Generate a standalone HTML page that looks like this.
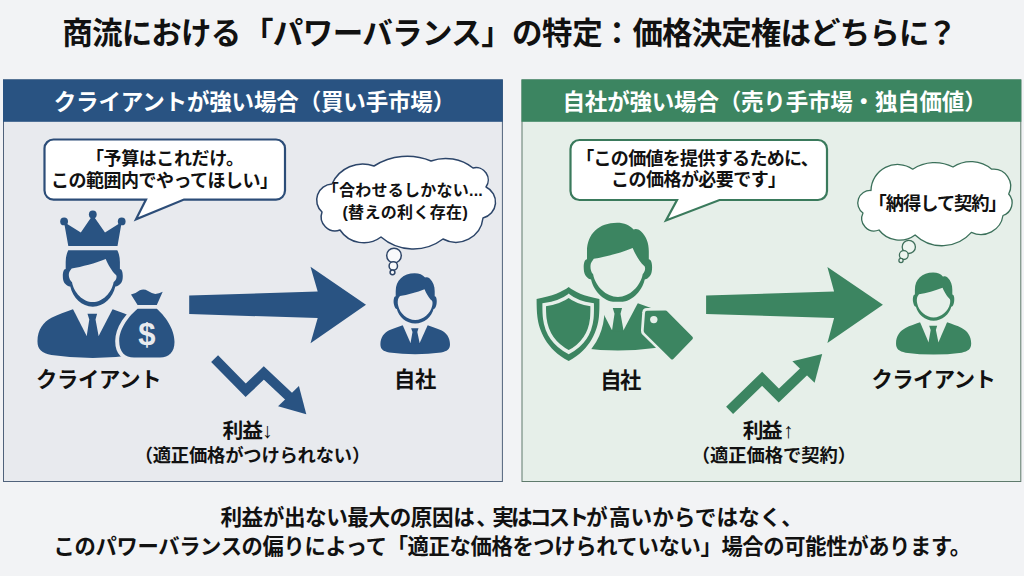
<!DOCTYPE html>
<html lang="ja"><head><meta charset="utf-8"><title>商流におけるパワーバランスの特定</title>
<style>
html,body{margin:0;padding:0;background:#f2f3f5;font-family:"Liberation Sans",sans-serif}
#stage{position:relative;width:1024px;height:576px;overflow:hidden;background:#f2f3f5}
svg{display:block;position:absolute;left:0;top:0}
svg text{font-family:"Liberation Sans","Noto Sans CJK JP",sans-serif;font-weight:bold}
.t{position:absolute;margin:0;padding:0;color:transparent;font-weight:bold;line-height:1;white-space:nowrap;text-align:center;overflow:hidden;font-family:"Liberation Sans","Noto Sans CJK JP",sans-serif;pointer-events:none}
</style>
</head><body>
<div id="stage">
<svg width="1024" height="576" viewBox="0 0 1024 576" role="img" aria-label="商流におけるパワーバランスの特定">
<rect width="1024" height="576" fill="#f2f3f5"/>
<rect x="3.5" y="80" width="498.9" height="401.5" fill="#e8eaee" stroke="#50627b" stroke-width="1"/>
<rect x="3" y="79.4" width="499.8" height="42.4" fill="#295382"/>
<rect x="522" y="80" width="498.8" height="401.5" fill="#e6efe9" stroke="#5f7a6c" stroke-width="1"/>
<rect x="521.5" y="79.4" width="499.8" height="42.4" fill="#3c8561"/>
<path d="M53.5 139.5H276A9 9 0 0 1 285 148.5V190.6A9 9 0 0 1 276 199.6H184L136 219.3L146 199.6H53.5A9 9 0 0 1 44.5 190.6V148.5A9 9 0 0 1 53.5 139.5Z" fill="#fff" stroke="#2c4d78" stroke-width="2.2" stroke-linejoin="miter"/>
<path d="M579.5 140H818A9 9 0 0 1 827 149V191A9 9 0 0 1 818 200H719.5L666 220.5L677 200H579.5A9 9 0 0 1 570.5 191V149A9 9 0 0 1 579.5 140Z" fill="#fff" stroke="#3a7a5c" stroke-width="2.2" stroke-linejoin="miter"/>
<path d="M332 184A33.5 33.5 0 0 1 374 166A61.96 61.96 0 0 1 431 161A43.95 43.95 0 0 1 473 168A12.28 12.28 0 0 1 486 187A16.52 16.52 0 0 1 483 218A27.26 27.26 0 0 1 443 239A49.23 49.23 0 0 1 381 237A28.53 28.53 0 0 1 340 230A14.12 14.12 0 0 1 322 212A16.05 16.05 0 0 1 332 184Z" fill="#fff" stroke="#2c4569" stroke-width="1.5" stroke-linejoin="round"/>
<circle cx="394" cy="255.5" r="7.3" fill="#f8f9fb" stroke="#2f4668" stroke-width="1.5"/>
<circle cx="393.3" cy="266" r="4.2" fill="#f8f9fb" stroke="#2f4668" stroke-width="1.5"/>
<circle cx="392.5" cy="272.3" r="2.4" fill="#f8f9fb" stroke="#2f4668" stroke-width="1.5"/>
<path d="M871 190.5A26.58 26.58 0 0 1 912.7 169.2A39.77 39.77 0 0 1 953 167A32.14 32.14 0 0 1 991.7 169.2A17.06 17.06 0 0 1 1008.7 194A13.31 13.31 0 0 1 1003 215.5A22.34 22.34 0 0 1 971.4 232.4A39.09 39.09 0 0 1 915.1 235A25.89 25.89 0 0 1 879 230A12.52 12.52 0 0 1 863 213A12.42 12.42 0 0 1 871 190.5Z" fill="#fff" stroke="#3b705a" stroke-width="1.3" stroke-linejoin="round"/>
<circle cx="908.8" cy="246.9" r="6.6" fill="#eef5f0" stroke="#3f6f5b" stroke-width="1.3"/>
<circle cx="903.8" cy="255.1" r="4.4" fill="#eef5f0" stroke="#3f6f5b" stroke-width="1.3"/>
<circle cx="901" cy="260.5" r="2.1" fill="#eef5f0" stroke="#3f6f5b" stroke-width="1.3"/>
<path d="M189.2 295.6L317.7 291.5L310.5 266.7L366 304.8L310.5 343.3L317.7 318.1L189.2 314Z" fill="#295382"/>
<path d="M706.1 295.6L834.1 291.5L827.4 267.1L882.9 304.8L827.4 342.9L834.1 318.1L706.1 314Z" fill="#3c8561"/>
<path d="M214.6 358.7L245.7 390.3L263.8 373L290.5 398" fill="none" stroke="#295382" stroke-width="9.7" stroke-linejoin="miter"/>
<path d="M298.9 386L306.3 414.2L278.1 406.2Z" fill="#295382"/>
<path d="M729.6 410.4L762.1 378.8L778.8 395.5L805.5 370" fill="none" stroke="#3c8561" stroke-width="10" stroke-linejoin="miter"/>
<path d="M792.4 361.3L822.2 353.9L814.6 382.7Z" fill="#3c8561"/>
<path d="M414.7 273.3C419.2 273.3 422.7 274.8 425.1 277.6C426.2 276.9 428.2 277.2 429.7 278.6C433.2 281.8 434.7 286.3 434.7 291.3L434.7 296.3C436.8 296.3 437.1 301.3 436.5 304.3C435.9 307.5 434.8 309 433.6 309C431.7 316.8 424.2 323.5 415.2 323.5C406.2 323.5 398.7 316.8 396.8 309C395.6 309 394.5 307.5 393.9 304.3C393.3 301.3 393.6 296.3 395.7 296.3L395.7 291.3C395.7 280.3 403.2 273.3 414.7 273.3Z" fill="#295382"/><path d="M400 296C407.2 294.8 417.2 292.3 424.5 289.2C426.2 293.3 429.2 298.3 431.5 300.3C432.7 300.8 432.8 303.8 432.2 305.8C430.7 313.3 423.2 320.1 415.2 320.1C407.2 320.1 399.7 313.3 398.2 305.8C397.4 303.3 397.6 299.3 398.7 297.8Z" fill="#e8eaee"/><path d="M402.7 325.2C398.2 326.8 393.2 328.3 389.2 330.3C384.2 332.8 380.4 337.3 380.4 344.3C380.4 349.3 383.2 351.3 389.2 352.5Q402.2 354.3 415.2 354.3Q428.2 354.3 441.2 352.5C447.2 351.3 450 349.3 450 344.3C450 337.3 446.2 332.8 441.2 330.3C437.2 328.3 432.2 326.8 427.7 325.2Z" fill="#295382"/><path d="M402.3 324.3L410.5 343.1H419.7L428.1 324.3Z" fill="#e8eaee"/><path d="M411.1 328.3H418.5L417.3 332.1L419.8 343.8H410.4L412.5 332.1Z" fill="#295382"/>
<path d="M933.12 272.5C937.44 272.5 940.8 273.94 943.1 276.63C944.16 275.96 946.08 276.24 947.52 277.59C950.88 280.66 952.32 284.98 952.32 289.78L952.32 294.58C954.34 294.58 954.62 299.38 954.05 302.26C953.47 305.33 952.42 306.77 951.26 306.77C949.44 314.26 942.24 320.69 933.6 320.69C924.96 320.69 917.76 314.26 915.94 306.77C914.78 306.77 913.73 305.33 913.15 302.26C912.58 299.38 912.86 294.58 914.88 294.58L914.88 289.78C914.88 279.22 922.08 272.5 933.12 272.5Z" fill="#3c8561"/><path d="M919.01 294.29C925.92 293.14 935.52 290.74 942.53 287.76C944.16 291.7 947.04 296.5 949.25 298.42C950.4 298.9 950.5 301.78 949.92 303.7C948.48 310.9 941.28 317.43 933.6 317.43C925.92 317.43 918.72 310.9 917.28 303.7C916.51 301.3 916.7 297.46 917.76 296.02Z" fill="#e6efe9"/><path d="M920.1 322.32C915.24 324.1 909.84 325.76 905.52 327.99C900.12 330.76 896.02 335.75 896.02 343.53C896.02 349.08 899.04 351.3 905.52 352.63Q919.56 354.62 933.6 354.62Q947.64 354.62 961.68 352.63C968.16 351.3 971.18 349.08 971.18 343.53C971.18 335.75 967.08 330.76 961.68 327.99C957.36 325.76 951.96 324.1 947.1 322.32Z" fill="#3c8561"/><path d="M919.67 321.32L928.52 342.19H938.46L947.53 321.32Z" fill="#e6efe9"/><path d="M929.17 325.76H937.16L935.87 329.98L938.57 342.97H928.42L930.68 329.98Z" fill="#3c8561"/>
<path d="M617.11 222.8C624.24 222.8 629.79 225.18 633.59 229.62C635.33 228.51 638.5 228.98 640.88 231.2C646.43 236.27 648.81 243.41 648.81 251.33L648.81 259.25C652.14 259.25 652.61 267.18 651.66 271.94C650.71 277.01 646.48 279.38 644.73 279.38C641.96 291.75 631.02 302.37 617.9 302.37C604.78 302.37 593.84 291.75 591.07 279.38C589.32 279.38 585.09 277.01 584.14 271.94C583.19 267.18 583.66 259.25 586.99 259.25L586.99 251.33C586.99 233.9 598.88 222.8 617.11 222.8Z" fill="#3c8561"/><path d="M593.81 258.78C605.22 256.88 621.07 252.92 632.64 248C635.33 254.5 640.09 262.43 643.74 265.6C645.64 266.39 645.8 271.14 642.69 274.31C640.5 286.2 629.57 296.98 617.9 296.98C606.23 296.98 595.3 286.2 593.11 274.31C589.69 270.35 590 264.01 591.75 261.63Z" fill="#e6efe9"/><path d="M597.9 303.3C590.7 305.89 582.7 308.32 576.3 311.56C568.3 315.61 562.22 322.9 562.22 334.24C562.22 342.34 566.7 345.58 576.3 347.53Q597.1 350.44 617.9 350.44Q638.7 350.44 659.5 347.53C669.1 345.58 673.58 342.34 673.58 334.24C673.58 322.9 667.5 315.61 659.5 311.56C653.1 308.32 645.1 305.89 637.9 303.3Z" fill="#3c8561"/><path d="M597.26 301.84L612.02 330.15H623.52L638.54 301.84Z" fill="#e6efe9"/><path d="M612.77 307.95H622.02L620.52 313.65L623.65 331.2H611.9L614.52 313.65Z" fill="#3c8561"/>
<clipPath id="c1"><rect x="37.2" y="250.3" width="111.19999999999999" height="111.19999999999999" rx="2.5"/></clipPath><path d="M92.11 237C98.36 237 103.22 239.09 106.56 242.98C108.09 242 110.87 242.42 112.95 244.37C117.82 248.81 119.91 255.07 119.91 262.02L119.91 268.97C122.82 268.97 123.24 275.92 122.41 280.09C121.57 284.54 116.77 286.62 115.31 286.62C112.98 297.46 103.81 306.78 92.8 306.78C81.79 306.78 72.62 297.46 70.29 286.62C68.83 286.62 64.03 284.54 63.19 280.09C62.36 275.92 62.78 268.97 65.69 268.97L65.69 262.02C65.69 246.73 76.12 237 92.11 237Z" fill="#295382" clip-path="url(#c1)"/><path d="M71.67 268.55C81.68 266.88 95.58 263.41 105.73 259.1C108.09 264.8 112.26 271.75 115.46 274.53C117.12 275.23 117.26 279.39 113.59 282.18C111.76 292.6 102.59 302.05 92.8 302.05C83.01 302.05 73.84 292.6 72.01 282.18C68.06 278.7 68.34 273.14 69.86 271.06Z" fill="#e8eaee"/><path d="M72.92 309.14C65.77 311.83 57.82 314.35 51.46 317.71C43.51 321.91 37.47 329.47 37.47 341.23C37.47 349.63 41.92 352.99 51.46 355Q72.13 358.03 92.8 358.03Q113.47 358.03 134.14 355C143.68 352.99 148.13 349.63 148.13 341.23C148.13 329.47 142.09 321.91 134.14 317.71C127.78 314.35 119.83 311.83 112.67 309.14Z" fill="#295382"/><path d="M72.29 307.63L86.69 335.99H98.65L113.31 307.63Z" fill="#e8eaee"/><path d="M87.47 313.79H97.09L95.53 319.49L98.78 337.04H86.56L89.29 319.49Z" fill="#295382"/>
<path d="M64 222L80.8 232.5L92.8 215L105 232.5L121.7 222L117.5 245.9H68.3Z" fill="#295382"/>
<circle cx="64.1" cy="221.4" r="3.9" fill="#295382"/>
<circle cx="92.8" cy="214.4" r="3.9" fill="#295382"/>
<circle cx="121.7" cy="221.4" r="3.9" fill="#295382"/>
<path d="M137.6 308.8C130 315 119.2 328 119.2 341C119.2 352 125 357.5 134 357.5H160C169 357.5 174.5 352 174.5 342C174.5 328 164 315 156.8 308.8ZM131 294.5Q136 293.5 139.8 290.3Q144 288.5 148 291Q152 293.5 155.3 294Q159 293.5 162.7 291.8L156.8 305.1H137.6Z" fill="#e8eaee" stroke="#e8eaee" stroke-width="8" stroke-linejoin="round"/>
<path d="M137.6 308.8C130 315 119.2 328 119.2 341C119.2 352 125 357.5 134 357.5H160C169 357.5 174.5 352 174.5 342C174.5 328 164 315 156.8 308.8ZM131 294.5Q136 293.5 139.8 290.3Q144 288.5 148 291Q152 293.5 155.3 294Q159 293.5 162.7 291.8L156.8 305.1H137.6Z" fill="#295382"/>
<clipPath id="csh"><rect x="520" y="302" width="120" height="70"/></clipPath>
<path d="M568.7 287.1C563 291.5 552 296.5 536.6 298.9C536.6 306 536.8 312 537.4 316.9C539 330 546 349 568.7 360.9C591 349 597.5 330 598.9 316.9C599.4 312 599.5 306 599.4 298.9C584 296.5 574 291.5 568.7 287.1Z" fill="#e6efe9" stroke="#e6efe9" stroke-width="10.4" stroke-linejoin="round" clip-path="url(#csh)"/>
<path d="M568.7 287.1C563 291.5 552 296.5 536.6 298.9C536.6 306 536.8 312 537.4 316.9C539 330 546 349 568.7 360.9C591 349 597.5 330 598.9 316.9C599.4 312 599.5 306 599.4 298.9C584 296.5 574 291.5 568.7 287.1Z" fill="#3c8561"/>
<path d="M568.7 287.1C563 291.5 552 296.5 536.6 298.9C536.6 306 536.8 312 537.4 316.9C539 330 546 349 568.7 360.9C591 349 597.5 330 598.9 316.9C599.4 312 599.5 306 599.4 298.9C584 296.5 574 291.5 568.7 287.1Z" fill="none" stroke="#e6efe9" stroke-width="4.7" transform="translate(568.7 324) scale(0.764) translate(-568.7 -324)"/>
<path d="M645 312.8Q645 310.8 647 310.8L665.3 310.6Q666.5 310.6 667.6 311.7L692.4 336.7Q693.6 337.9 692.4 339.2L673.3 358.9Q672.1 360.1 670.9 358.9L644.6 332.9Q643.6 331.7 643.7 330.5Z" fill="#e6efe9" stroke="#e6efe9" stroke-width="5.5" stroke-linejoin="round"/>
<path d="M645 312.8Q645 310.8 647 310.8L665.3 310.6Q666.5 310.6 667.6 311.7L692.4 336.7Q693.6 337.9 692.4 339.2L673.3 358.9Q672.1 360.1 670.9 358.9L644.6 332.9Q643.6 331.7 643.7 330.5Z" fill="#3c8561"/>
<circle cx="653.8" cy="319.6" r="3.7" fill="#e6efe9"/>
<text x="138.2" y="345" font-size="31" fill="#e8eaee">$</text>
<text x="62.24" y="43.7" font-size="30.5" fill="#111111" textLength="179" lengthAdjust="spacing">商流における</text>
<text x="242.98" y="43.7" font-size="30.5" fill="#111111" textLength="268.7" lengthAdjust="spacing">「パワーバランス」</text>
<text x="512.05" y="43.7" font-size="30.5" fill="#111111" textLength="90.6" lengthAdjust="spacing">の特定</text>
<text x="601.65" y="43.7" font-size="30.5" fill="#111111">：</text>
<text x="632.43" y="43.7" font-size="30.5" fill="#111111" textLength="297" lengthAdjust="spacing">価格決定権はどちらに</text>
<text x="926.87" y="43.7" font-size="30.5" fill="#111111">？</text>
<text x="53.72" y="109.5" font-size="22.5" fill="#fff" textLength="401.5" lengthAdjust="spacing">クライアントが強い場合（買い手市場）</text>
<text x="562.56" y="109.5" font-size="22.5" fill="#fff" textLength="424.1" lengthAdjust="spacing">自社が強い場合（売り手市場・独自価値）</text>
<text x="85.91" y="164.5" font-size="18" fill="#111111" textLength="158" lengthAdjust="spacing">「予算はこれだけ。</text>
<text x="51.11" y="187.3" font-size="18" fill="#111111" textLength="226.8" lengthAdjust="spacing">この範囲内でやってほしい」</text>
<text x="322.82" y="196.3" font-size="16" fill="#111111" textLength="160" lengthAdjust="spacing">「合わせるしかない...</text>
<text x="342.45" y="217.5" font-size="16" fill="#111111" textLength="125.3" lengthAdjust="spacing">(替えの利く存在)</text>
<text x="576.21" y="165" font-size="18" fill="#111111" textLength="242.6" lengthAdjust="spacing">「この価値を提供するために、</text>
<text x="611.11" y="186.3" font-size="18" fill="#111111" textLength="175" lengthAdjust="spacing">この価格が必要です」</text>
<text x="868.59" y="209.5" font-size="18.3" fill="#111111" textLength="138.2" lengthAdjust="spacing">「納得して契約」</text>
<text x="36.01" y="387.2" font-size="21.3" fill="#111111" textLength="125.6" lengthAdjust="spacing">クライアント</text>
<text x="393.93" y="387.2" font-size="21.3" fill="#111111" textLength="42.5" lengthAdjust="spacing">自社</text>
<text x="600.23" y="387.8" font-size="21.3" fill="#111111" textLength="41" lengthAdjust="spacing">自社</text>
<text x="871.51" y="387.2" font-size="21.3" fill="#111111" textLength="124.3" lengthAdjust="spacing">クライアント</text>
<text x="222.46" y="438.3" font-size="20.8" fill="#111111" textLength="40.6" lengthAdjust="spacing">利益</text>
<text x="261.95" y="438.3" font-size="20.8" fill="#111111">↓</text>
<text x="134.67" y="462.3" font-size="18.3" fill="#111111" textLength="235.5" lengthAdjust="spacing">（適正価格がつけられない）</text>
<text x="742.66" y="438.3" font-size="20.8" fill="#111111" textLength="39.8" lengthAdjust="spacing">利益</text>
<text x="782.95" y="438.3" font-size="20.8" fill="#111111">↑</text>
<text x="691.67" y="462.3" font-size="18.3" fill="#111111" textLength="164.3" lengthAdjust="spacing">（適正価格で契約）</text>
<text x="220.45" y="524.8" font-size="21.6" fill="#111111" textLength="254.3" lengthAdjust="spacing">利益が出ない最大の原因は</text>
<text x="476.34" y="524.8" font-size="21.6" fill="#111111">、</text>
<text x="492.15" y="524.8" font-size="21.6" fill="#111111" textLength="115.5" lengthAdjust="spacing">実はコストが</text>
<text x="608.98" y="524.8" font-size="21.6" fill="#111111" textLength="172.3" lengthAdjust="spacing">高いからではなく</text>
<text x="781.34" y="524.8" font-size="21.6" fill="#111111">、</text>
<text x="53.58" y="554.3" font-size="21.3" fill="#111111" textLength="917.6" lengthAdjust="spacing">このパワーバランスの偏りによって「適正な価格をつけられていない」場合の可能性があります。</text>
</svg>
<h1 class="t" style="left:62px;top:14px;width:900px;height:34px;font-size:30px">商流における「パワーバランス」の特定：価格決定権はどちらに？</h1>
<h2 class="t" style="left:3px;top:88px;width:499px;height:26px;font-size:22px">クライアントが強い場合（買い手市場）</h2>
<h2 class="t" style="left:522px;top:88px;width:499px;height:26px;font-size:22px">自社が強い場合（売り手市場・独自価値）</h2>
<p class="t" style="left:45px;top:148px;width:240px;height:22px;font-size:18px">「予算はこれだけ。</p>
<p class="t" style="left:45px;top:171px;width:240px;height:22px;font-size:18px">この範囲内でやってほしい」</p>
<p class="t" style="left:320px;top:181px;width:170px;height:20px;font-size:16px">「合わせるしかない...</p>
<p class="t" style="left:320px;top:202px;width:170px;height:20px;font-size:16px">(替えの利く存在)</p>
<p class="t" style="left:571px;top:148px;width:256px;height:22px;font-size:18px">「この価値を提供するために、</p>
<p class="t" style="left:571px;top:170px;width:256px;height:22px;font-size:18px">この価格が必要です」</p>
<p class="t" style="left:860px;top:192px;width:150px;height:22px;font-size:18px">「納得して契約」</p>
<p class="t" style="left:30px;top:368px;width:136px;height:25px;font-size:21px">クライアント</p>
<p class="t" style="left:380px;top:368px;width:70px;height:25px;font-size:21px">自社</p>
<p class="t" style="left:586px;top:368px;width:70px;height:25px;font-size:21px">自社</p>
<p class="t" style="left:865px;top:368px;width:136px;height:25px;font-size:21px">クライアント</p>
<p class="t" style="left:200px;top:420px;width:100px;height:24px;font-size:20px">利益↓</p>
<p class="t" style="left:130px;top:445px;width:245px;height:22px;font-size:18px">（適正価格がつけられない）</p>
<p class="t" style="left:720px;top:420px;width:100px;height:24px;font-size:20px">利益↑</p>
<p class="t" style="left:690px;top:445px;width:170px;height:22px;font-size:18px">（適正価格で契約）</p>
<p class="t" style="left:200px;top:505px;width:624px;height:26px;font-size:22px">利益が出ない最大の原因は、実はコストが高いからではなく、</p>
<p class="t" style="left:40px;top:535px;width:944px;height:26px;font-size:22px">このパワーバランスの偏りによって「適正な価格をつけられていない」場合の可能性があります。</p>
</div>
</body></html>
